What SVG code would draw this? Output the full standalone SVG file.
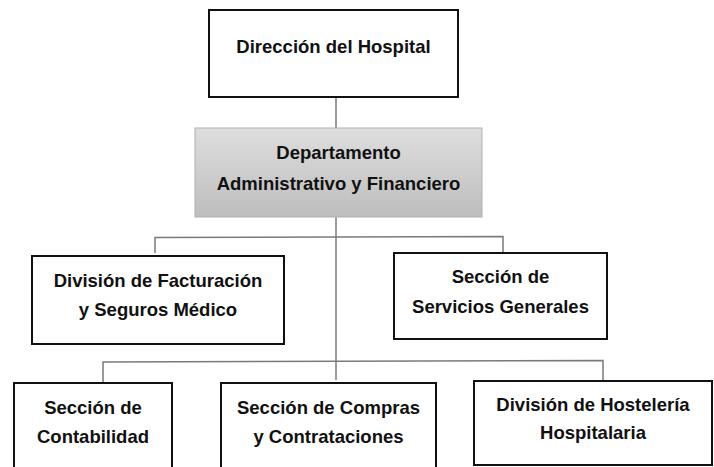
<svg xmlns="http://www.w3.org/2000/svg" width="714" height="467" viewBox="0 0 714 467">
  <defs>
    <linearGradient id="grayGrad" x1="0" y1="0" x2="0" y2="1">
      <stop offset="0" stop-color="#dedede"/>
      <stop offset="1" stop-color="#bdbdbd"/>
    </linearGradient>
  </defs>
  <style>
    .box { fill: #ffffff; stroke: #111111; stroke-width: 2; }
    .gbox { fill: url(#grayGrad); stroke: #b0b0b0; stroke-width: 1; }
    .lbl { font-family: "Liberation Sans", Arial, sans-serif; font-weight: bold; font-size: 18.5px; fill: #111111; text-anchor: middle; }
    .conn { fill: none; stroke: #7a7a7a; stroke-width: 1.5; }
  </style>
  <rect width="714" height="467" fill="#ffffff"/>

  <g id="connectors">
    <line class="conn" x1="336" y1="97" x2="336" y2="128"/>
    <line class="conn" x1="336" y1="217" x2="336" y2="380"/>
    <polyline class="conn" points="155,253 155,237.5 503,236.5 503,253"/>
    <polyline class="conn" points="103,383 103,362 603,360.5 603,381"/>
  </g>

  <g id="direccion">
    <rect class="box" x="209" y="10" width="249" height="87"/>
    <text class="lbl" x="333.5" y="53">Dirección del Hospital</text>
  </g>

  <g id="departamento">
    <rect class="gbox" x="195" y="128" width="287" height="89"/>
    <text class="lbl" x="338.5" y="159">Departamento</text>
    <text class="lbl" x="338.5" y="190">Administrativo y Financiero</text>
  </g>

  <g id="facturacion">
    <rect class="box" x="32" y="256" width="252" height="88"/>
    <text class="lbl" x="158" y="287">División de Facturación</text>
    <text class="lbl" x="158" y="316">y Seguros Médico</text>
  </g>

  <g id="servicios">
    <rect class="box" x="394" y="253" width="213" height="86"/>
    <text class="lbl" x="500.5" y="283">Sección de</text>
    <text class="lbl" x="500.5" y="313">Servicios Generales</text>
  </g>

  <g id="contabilidad">
    <rect class="box" x="14" y="383" width="158" height="95"/>
    <text class="lbl" x="93" y="414">Sección de</text>
    <text class="lbl" x="93" y="443">Contabilidad</text>
  </g>

  <g id="compras">
    <rect class="box" x="221" y="383" width="215" height="95"/>
    <text class="lbl" x="328.5" y="414">Sección de Compras</text>
    <text class="lbl" x="328.5" y="443">y Contrataciones</text>
  </g>

  <g id="hosteleria">
    <rect class="box" x="474" y="381" width="238" height="84"/>
    <text class="lbl" x="593" y="411">División de Hostelería</text>
    <text class="lbl" x="593" y="439">Hospitalaria</text>
  </g>
</svg>
